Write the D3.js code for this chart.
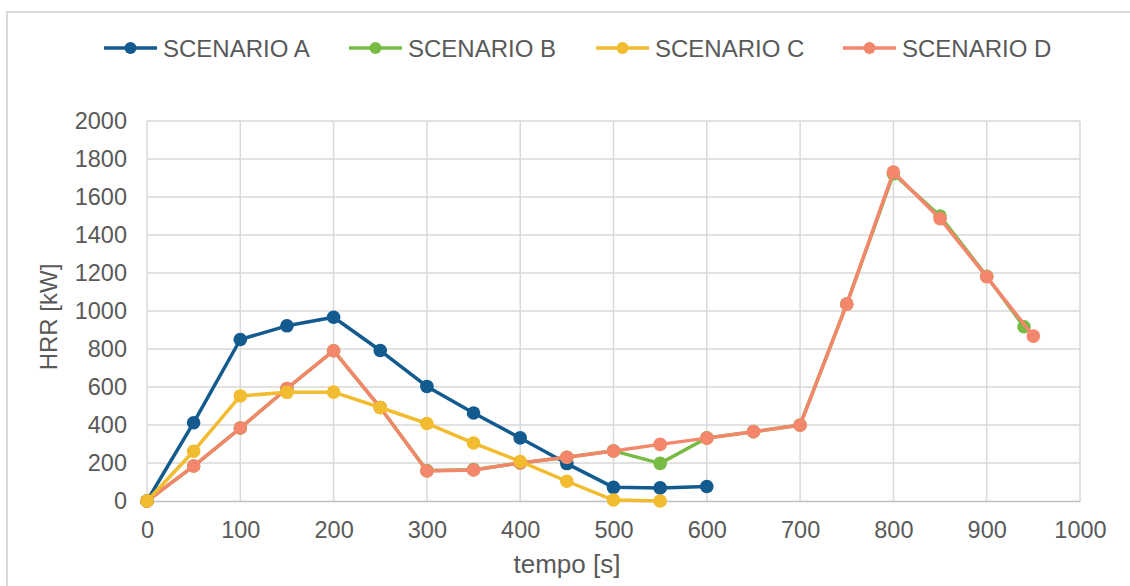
<!DOCTYPE html>
<html>
<head>
<meta charset="utf-8">
<script src="https://cdn.jsdelivr.net/npm/d3@7"></script>
<style>
  html, body { margin: 0; padding: 0; background: #fff; }
  svg { display: block; }
  text { font-family: "Liberation Sans", Arial, sans-serif; fill: #595959; }
</style>
</head>
<body>
<svg id="chart" width="1130" height="586"></svg>
<script>
// Heat release rate (HRR) over time for four fire scenarios
const seriesNames = ["SCENARIO A", "SCENARIO B", "SCENARIO C", "SCENARIO D"];
const seriesColors = ["#135a8f", "#78bb45", "#f2bc30", "#f3866b"];

const timeA = [0, 50, 100, 150, 200, 250, 300, 350, 400, 450, 500, 550, 600];
const hrrA  = [0, 412, 850, 922, 967, 792, 603, 463, 332, 197, 72, 69, 76];

const timeB = [0, 50, 100, 150, 200, 250, 300, 350, 400, 450, 500, 550, 600, 650, 700, 750, 800, 850, 900, 940];
const hrrB  = [0, 184, 384, 592, 791, 492, 160, 165, 200, 230, 264, 198, 332, 365, 400, 1036, 1722, 1500, 1183, 917];

const timeC = [0, 50, 100, 150, 200, 250, 300, 350, 400, 450, 500, 550];
const hrrC  = [0, 262, 553, 572, 573, 492, 408, 305, 208, 104, 5, 0];

const timeD = [0, 50, 100, 150, 200, 250, 300, 350, 400, 450, 500, 550, 600, 650, 700, 750, 800, 850, 900, 950];
const hrrD  = [0, 184, 384, 592, 791, 492, 158, 163, 200, 230, 263, 298, 331, 365, 399, 1036, 1731, 1486, 1180, 868];

const xTicks = [0, 100, 200, 300, 400, 500, 600, 700, 800, 900, 1000];
const yTicks = [0, 200, 400, 600, 800, 1000, 1200, 1400, 1600, 1800, 2000];

const svg = d3.select("#chart");

const x = d3.scaleLinear().domain([0, 1000]).range([147, 1080]);
const y = d3.scaleLinear().domain([0, 2000]).range([501, 121]);

// chart area frame
svg.append("rect")
  .attr("x", 7).attr("y", 12)
  .attr("width", 1140).attr("height", 600)
  .attr("fill", "none")
  .attr("stroke", "#d9d9d9")
  .attr("stroke-width", 2);

// gridlines
const grid = svg.append("g");
grid.selectAll("line.h").data(yTicks.filter(v => v > 0)).join("line")
  .attr("x1", x(0)).attr("x2", x(1000))
  .attr("y1", d => y(d)).attr("y2", d => y(d))
  .attr("stroke", "#d9d9d9").attr("stroke-width", 1.5);
grid.selectAll("line.v").data(xTicks).join("line")
  .attr("x1", d => x(d)).attr("x2", d => x(d))
  .attr("y1", y(0)).attr("y2", y(2000))
  .attr("stroke", "#d9d9d9").attr("stroke-width", 1.5);

// x axis
const xAxis = svg.append("g")
  .attr("transform", `translate(0,${y(0)})`)
  .call(d3.axisBottom(x).tickValues(xTicks).tickSize(0).tickPadding(20).tickFormat(d3.format("d")));
xAxis.select(".domain").attr("stroke", "#bfbfbf").attr("stroke-width", 1.5);
xAxis.selectAll("text").style("font-size", "23.5px").attr("fill", "#595959")
  .style("font-family", "'Liberation Sans', Arial, sans-serif");

// y axis
const yAxis = svg.append("g")
  .attr("transform", `translate(${x(0)},0)`)
  .call(d3.axisLeft(y).tickValues(yTicks).tickSize(0).tickPadding(20).tickFormat(d3.format("d")));
yAxis.select(".domain").remove();
yAxis.selectAll("text").style("font-size", "23.5px").attr("fill", "#595959")
  .style("font-family", "'Liberation Sans', Arial, sans-serif");

// axis titles
svg.append("text")
  .attr("x", 567).attr("y", 573)
  .attr("text-anchor", "middle")
  .style("font-size", "26px")
  .text("tempo [s]");
svg.append("text")
  .attr("transform", "translate(57,317) rotate(-90)")
  .attr("text-anchor", "middle")
  .style("font-size", "24px")
  .text("HRR [kW]");

// series
const series = [
  { name: seriesNames[0], color: seriesColors[0], t: timeA, v: hrrA },
  { name: seriesNames[1], color: seriesColors[1], t: timeB, v: hrrB },
  { name: seriesNames[2], color: seriesColors[2], t: timeC, v: hrrC },
  { name: seriesNames[3], color: seriesColors[3], t: timeD, v: hrrD }
];
const drawOrder = [0, 1, 3, 2];

const line = d3.line().x(d => x(d[0])).y(d => y(d[1]));

drawOrder.forEach(i => {
  const s = series[i];
  const pts = s.t.map((t, k) => [t, s.v[k]]);
  const g = svg.append("g");
  g.append("path")
    .attr("d", line(pts))
    .attr("fill", "none")
    .attr("stroke", s.color)
    .attr("stroke-width", 3.5)
    .attr("stroke-linejoin", "round");
  g.selectAll("circle").data(pts).join("circle")
    .attr("cx", d => x(d[0]))
    .attr("cy", d => y(d[1]))
    .attr("r", 6.8)
    .attr("fill", s.color);
});

// legend
const legendX = [104, 349, 596, 843];
const legend = svg.append("g");
series.forEach((s, i) => {
  const lg = legend.append("g").attr("transform", `translate(${legendX[i]},48)`);
  lg.append("line")
    .attr("x1", 0).attr("x2", 53).attr("y1", 0).attr("y2", 0)
    .attr("stroke", s.color).attr("stroke-width", 3.5);
  lg.append("circle").attr("cx", 26.5).attr("cy", 0).attr("r", 6).attr("fill", s.color);
  lg.append("text")
    .attr("x", 59).attr("y", 8.5)
    .style("font-size", "24px")
    .text(s.name);
});
</script>
</body>
</html>
